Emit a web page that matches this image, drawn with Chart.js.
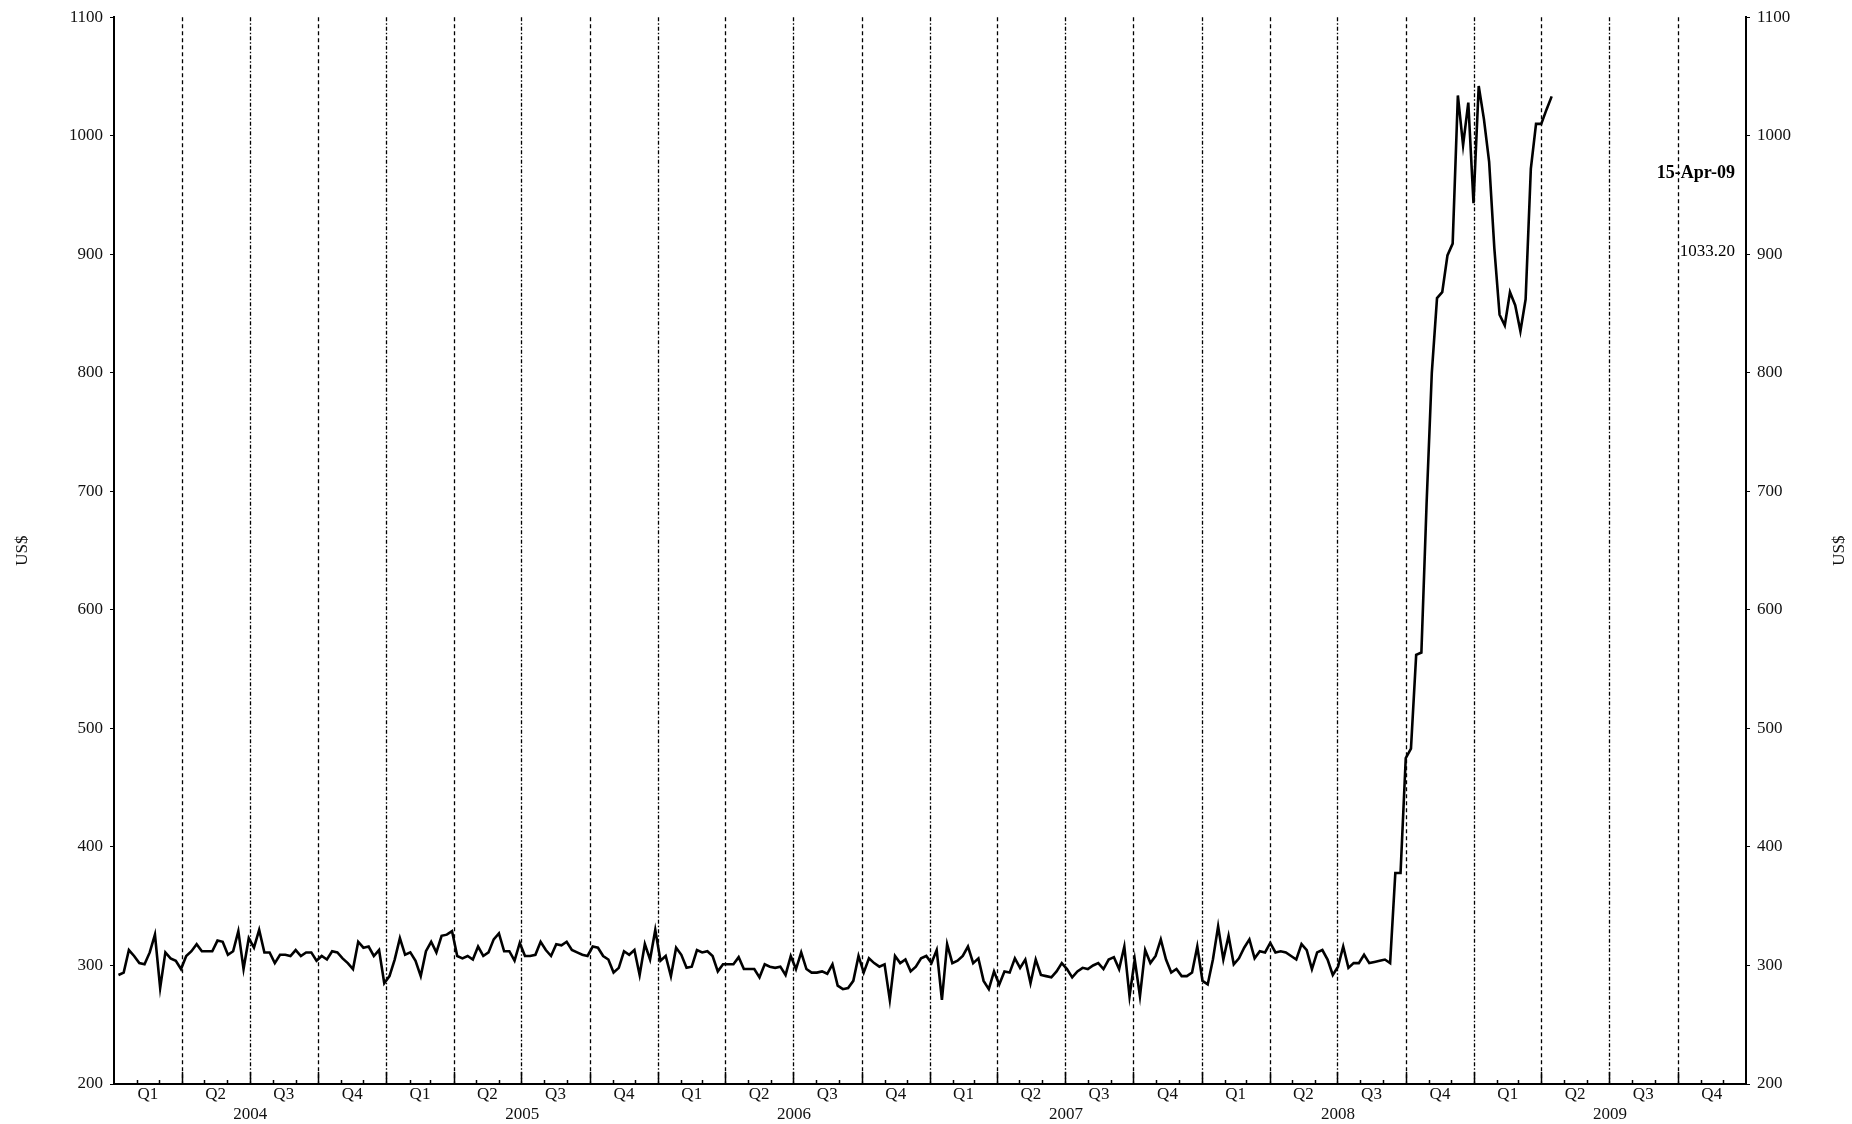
<!DOCTYPE html>
<html>
<head>
<meta charset="utf-8">
<script src="https://cdn.jsdelivr.net/npm/chart.js@4.4.1/dist/chart.umd.min.js"></script>
<style>
html,body{margin:0;padding:0;background:#fff;}
#wrap{width:1852px;height:1124px;position:relative;}
</style>
</head>
<body>
<div id="wrap"><canvas id="c" width="1852" height="1124"></canvas></div>
<script>
// ---- data (weekly observations, Wednesdays) ----
const startDate = [2004, 1, 7];
const weekStepDays = 7;

const pricesA = [
  292, 294, 313, 308, 302, 301, 311, 326, 281, 311,
  306, 304, 297, 308, 312, 318, 312, 312, 312, 321,
  320, 309, 312, 329, 297, 323, 315, 330, 311, 311,
  302, 309, 309, 308, 313, 308, 311, 311, 304, 308,
  305, 312, 311, 306, 302, 297, 320, 315, 316, 308,
  313, 285, 291, 305, 323, 309, 311, 304, 291, 312,
  320, 311, 325, 326, 329, 308, 306, 308, 305, 316,
  308, 311, 322, 327, 312, 312, 304, 319, 308, 308,
  309, 320, 313
];
const pricesB = [
  308, 318, 317, 320, 313, 311, 309, 308, 316, 315,
  308, 305, 294, 298, 312, 309, 313, 292, 318, 305,
  330, 304, 308, 291, 315, 309, 298, 299, 313, 311,
  312, 308, 295, 301, 301, 301, 307, 297, 297, 297,
  290, 301, 299, 298, 299, 292, 308, 297, 311, 297,
  294, 294, 295, 293, 301, 283, 280, 281, 287, 308,
  294, 306, 302, 299, 301, 271, 308, 302, 305, 295,
  299, 306, 308, 302, 313, 271, 318, 302, 304, 308,
  316, 302, 306
];
const pricesC = [
  287, 280, 295, 284, 295, 294, 306, 298, 305, 285,
  305, 292, 291, 290, 295, 302, 297, 290, 295, 298,
  297, 300, 302, 297, 305, 307, 297, 316, 274, 305,
  274, 313, 302, 308, 322, 305, 294, 297, 291, 291,
  294, 316, 287, 284, 305, 333, 305, 325, 301, 306,
  315, 322, 306, 312, 311, 319, 311, 312, 311, 308,
  305, 318, 313, 297, 311, 313, 305, 292, 299, 316,
  298, 302, 302, 309, 302, 303, 304, 305, 302
];
const pricesD = [
  378, 378, 475, 483, 562, 564, 690, 800, 863, 868,
  899, 909, 1034, 992, 1028, 943, 1042, 1014, 978, 905,
  849, 840, 868, 857, 835, 862, 972, 1010, 1010, 1022,
  1033.2
];

const quarterLabels = ['Q1', 'Q2', 'Q3', 'Q4'];
const yearLabels = ['2004', '2005', '2006', '2007', '2008', '2009'];
const yMin = 200, yMax = 1100, yStep = 100;
const lastDateLabel = '15-Apr-09';
const lastValueLabel = '1033.20';
const axisTitle = 'US$';

// ---- helpers ----
const DAY = 86400000;
const ORIGIN = Date.UTC(2004, 0, 1);
function dayNum(y, m, d) { return (Date.UTC(y, m - 1, d) - ORIGIN) / DAY; }

const prices = [...pricesA, ...pricesB, ...pricesC, ...pricesD];
const start = dayNum(startDate[0], startDate[1], startDate[2]);
const points = prices.map((v, i) => ({ x: start + i * weekStepDays, y: v }));

const FONT = '"Liberation Serif", "Times New Roman", serif';
const firstYear = +yearLabels[0];
const lastYear = +yearLabels[yearLabels.length - 1];

const quarterPlugin = {
  id: 'quarters',
  beforeDatasetsDraw(chart) {
    const { ctx, chartArea: a, scales: { x } } = chart;
    ctx.save();
    ctx.strokeStyle = '#000';
    ctx.lineWidth = 1.3;
    yearLabels.forEach((yl, yi) => {
      const yr = +yl;
      for (let q = 0; q < 4; q++) {
        if (yi === 0 && q === 0) continue;
        const px = Math.round(x.getPixelForValue(dayNum(yr, q * 3 + 1, 1))) + 0.5;
        ctx.setLineDash(q % 2 === 0 ? [4, 2, 1.5, 2] : [4, 3]);
        ctx.beginPath();
        ctx.moveTo(px, a.top);
        ctx.lineTo(px, a.bottom);
        ctx.stroke();
      }
    });
    ctx.restore();
  },
  afterDraw(chart) {
    const { ctx, chartArea: a, scales: { x, y } } = chart;
    ctx.save();
    ctx.strokeStyle = '#000';
    ctx.fillStyle = '#111';
    ctx.lineWidth = 1.5;
    ctx.setLineDash([]);
    for (let yr = firstYear; yr <= lastYear; yr++) {
      for (let m = 1; m <= 12; m++) {
        if (yr === firstYear && m === 1) continue;
        const px = Math.round(x.getPixelForValue(dayNum(yr, m, 1))) + 0.5;
        const len = ((m - 1) % 3 === 0) ? 12 : 4;
        ctx.beginPath();
        ctx.moveTo(px, a.bottom);
        ctx.lineTo(px, a.bottom - len);
        ctx.stroke();
      }
    }
    ctx.font = '17px ' + FONT;
    ctx.textAlign = 'center';
    ctx.textBaseline = 'middle';
    yearLabels.forEach((yl) => {
      const yr = +yl;
      for (let q = 0; q < 4; q++) {
        const s = x.getPixelForValue(dayNum(yr, q * 3 + 1, 1));
        const e = q === 3 ? x.getPixelForValue(dayNum(yr + 1, 1, 1)) : x.getPixelForValue(dayNum(yr, q * 3 + 4, 1));
        ctx.fillText(quarterLabels[q], (s + e) / 2, a.bottom + 11);
      }
      const ys = x.getPixelForValue(dayNum(yr, 1, 1));
      const ye = x.getPixelForValue(dayNum(yr + 1, 1, 1));
      ctx.fillText(yl, (ys + ye) / 2, a.bottom + 31);
    });
    // right axis title, reading bottom-to-top like the left one
    ctx.save();
    ctx.translate(chart.width - 12, (a.top + a.bottom) / 2);
    ctx.rotate(-Math.PI / 2);
    ctx.fillText(axisTitle, 0, 0);
    ctx.restore();
    // last value annotation
    ctx.textAlign = 'right';
    ctx.fillStyle = '#000';
    ctx.font = 'bold 18px ' + FONT;
    ctx.fillText(lastDateLabel, a.right - 11, y.getPixelForValue(968));
    ctx.font = '17px ' + FONT;
    ctx.fillText(lastValueLabel, a.right - 11, y.getPixelForValue(902));
    ctx.restore();
  }
};

const yAxisCommon = (pos, width, showTitle) => ({
  type: 'linear',
  position: pos,
  min: yMin,
  max: yMax,
  ticks: { stepSize: yStep, color: '#111', font: { family: FONT, size: 17 }, padding: 7, callback: (v) => String(v) },
  grid: { display: true, drawOnChartArea: false, drawTicks: true, tickLength: 4, color: '#000', lineWidth: 1 },
  border: { display: true, color: '#000', width: 2 },
  title: { display: showTitle, text: axisTitle, color: '#111', font: { family: FONT, size: 17 }, padding: { top: 12, bottom: 0 } },
  afterFit(s) { s.width = width; }
});

new Chart(document.getElementById('c'), {
  type: 'line',
  data: {
    datasets: [{
      data: points,
      borderColor: '#000',
      borderWidth: 2.6,
      pointRadius: 0,
      tension: 0,
      fill: false,
      yAxisID: 'y'
    }]
  },
  options: {
    responsive: false,
    animation: false,
    layout: { padding: { top: 14, bottom: 0, left: 0, right: 0 } },
    plugins: { legend: { display: false }, tooltip: { enabled: false } },
    scales: {
      x: {
        type: 'linear',
        min: 0,
        max: dayNum(lastYear + 1, 1, 1),
        ticks: { display: false },
        grid: { display: false },
        border: { display: true, color: '#000', width: 2 },
        afterFit(s) { s.height = 40; }
      },
      y: yAxisCommon('left', 114, true),
      y2: yAxisCommon('right', 106, false)
    }
  },
  plugins: [quarterPlugin]
});
</script>
</body>
</html>
